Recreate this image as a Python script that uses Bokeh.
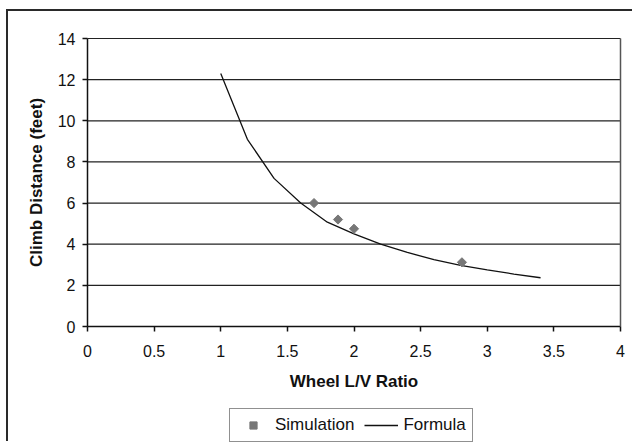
import math
from bokeh.plotting import figure
from bokeh.models import Range1d, FixedTicker, Legend, LegendItem, LinearAxis
from bokeh.embed import file_html
from bokeh.resources import INLINE

# Formula curve
formula_x = [1.0, 1.2, 1.4, 1.6, 1.8, 2.0, 2.2, 2.4, 2.6, 2.8, 3.0, 3.2, 3.4]
formula_y = [12.3, 9.1, 7.2, 6.0, 5.07, 4.5, 4.0, 3.6, 3.25, 2.97, 2.75, 2.55, 2.37]

# Simulation points
sim_x = [1.70, 1.88, 2.00, 2.81]
sim_y = [6.0, 5.2, 4.75, 3.12]

x_ticks = [0, 0.5, 1, 1.5, 2, 2.5, 3, 3.5, 4]
x_tick_labels = ["0", "0.5", "1", "1.5", "2", "2.5", "3", "3.5", "4"]
y_ticks = [0, 2, 4, 6, 8, 10, 12, 14]

FONT = "Liberation Sans"

# ---- layout (pixels) ----
W, H = 626, 432            # canvas size (placed at x=8, y=11 by the styles below)
OX, OY = 8, 11             # canvas origin on page
B_LEFT, B_RIGHT, B_TOP, B_BOTTOM = 2, 0, 2, 0
PLOT_L, PLOT_R, PLOT_T, PLOT_B = 87, 620, 38, 326   # where x 0..4 / y 0..14 lie
fx0, fx1 = OX + B_LEFT, OX + W - B_RIGHT
fy0, fy1 = OY + B_TOP, OY + H - B_BOTTOM
xmin, xmax = x_ticks[0], x_ticks[-1]
ymin, ymax = y_ticks[0], y_ticks[-1]
ppx = (PLOT_R - PLOT_L) / (xmax - xmin)
ppy = (PLOT_B - PLOT_T) / (ymax - ymin)
x_lo = xmin - (PLOT_L - fx0) / ppx
x_hi = xmax + (fx1 - PLOT_R) / ppx
y_lo = ymin - (fy1 - PLOT_B) / ppy
y_hi = ymax + (PLOT_T - fy0) / ppy

p = figure(width=W, height=H, output_backend="svg", toolbar_location=None,
           x_range=Range1d(x_lo, x_hi), y_range=Range1d(y_lo, y_hi),
           min_border_left=B_LEFT, min_border_right=B_RIGHT, min_border_top=B_TOP,
           min_border_bottom=B_BOTTOM)
p.styles = {"margin-left": "6px", "margin-top": "9px",
            "border-left": "2px solid #2a2a2a", "border-top": "2px solid #2a2a2a"}

p.outline_line_color = None
p.background_fill_color = "white"
p.border_fill_color = "white"
p.xgrid.grid_line_color = None
p.ygrid.grid_line_color = None

# horizontal gridlines across the plot area only
n = len(y_ticks)
p.segment(x0=[xmin] * n, y0=y_ticks, x1=[xmax] * n, y1=y_ticks,
          line_color="#222222", line_width=1.2)

p.xaxis.ticker = FixedTicker(ticks=x_ticks)
p.xaxis.major_label_overrides = {t: l for t, l in zip(x_ticks, x_tick_labels)}
p.xaxis.fixed_location = ymin
p.xaxis.bounds = (xmin, xmax)
p.yaxis.ticker = FixedTicker(ticks=y_ticks)
p.yaxis.fixed_location = xmin
p.yaxis.bounds = (ymin, ymax)

for ax in (p.xaxis, p.yaxis):
    ax.axis_line_color = "#111111"
    ax.axis_line_width = 1.5
    ax.major_tick_line_color = "#111111"
    ax.major_tick_line_width = 1.5
    ax.major_tick_out = 5
    ax.major_tick_in = 0
    ax.minor_tick_line_color = None
    ax.major_label_text_font = FONT
    ax.major_label_text_font_size = "16px"
    ax.major_label_text_color = "#111111"
    ax.axis_label_text_font = FONT
    ax.axis_label_text_font_size = "17px"
    ax.axis_label_text_font_style = "bold"
    ax.axis_label_text_color = "#111111"

p.xaxis.axis_label = "Wheel L/V Ratio"
p.yaxis.axis_label = "Climb Distance (feet)"
p.xaxis.major_label_standoff = 13
p.yaxis.major_label_standoff = 7
p.xaxis.axis_label_standoff = 12
p.yaxis.axis_label_standoff = 9

# right border of the plot area
right_ax = LinearAxis(ticker=FixedTicker(ticks=[]), bounds=(ymin, ymax),
                      fixed_location=xmax,
                      axis_line_color="#555555", axis_line_width=1.5,
                      major_tick_line_color=None, minor_tick_line_color=None)
p.add_layout(right_ax, "right")

line = p.line(formula_x, formula_y, line_color="#111111", line_width=1.3)
pts = p.scatter(sim_x, sim_y, marker="square", angle=math.pi / 4, size=6.5,
                fill_color="#777777", line_color="#777777")

legend = Legend(items=[LegendItem(label="Simulation", renderers=[pts]),
                       LegendItem(label="Formula", renderers=[line])],
                orientation="horizontal", location=(229 - fx0, 1))
legend.label_text_font = FONT
legend.label_text_font_size = "17px"
legend.label_text_color = "#111111"
legend.border_line_color = "#222222"
legend.border_line_width = 1.5
legend.glyph_width = 34
legend.glyph_height = 18
legend.label_height = 18
legend.label_standoff = 5
legend.spacing = 10
legend.padding = 6
legend.margin = 0
legend.background_fill_alpha = 1.0
p.add_layout(legend, "center")

open("out.html", "w").write(file_html(p, INLINE))
